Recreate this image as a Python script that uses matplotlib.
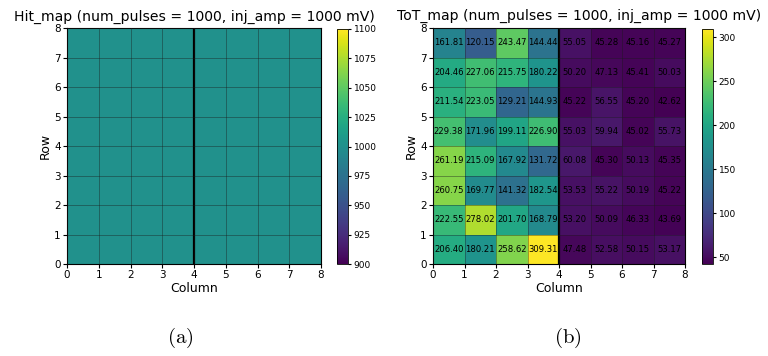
import numpy as np
import matplotlib
matplotlib.use("Agg")
import matplotlib.pyplot as plt

plt.rcParams['font.family'] = ['DejaVu Sans']
plt.rcParams['mathtext.fontset'] = 'cm'

n_cols = 8
n_rows = 8
num_pulses = 1000
inj_amp = 1000

# Hit counts per pixel (rows listed from row 7 at top down to row 0)
hit_rows_top_down = [
    [1000, 1000, 1000, 1000, 1000, 1000, 1000, 1000],
    [1000, 1000, 1000, 1000, 1000, 1000, 1000, 1000],
    [1000, 1000, 1000, 1000, 1000, 1000, 1000, 1000],
    [1000, 1000, 1000, 1000, 1000, 1000, 1000, 1000],
    [1000, 1000, 1000, 1000, 1000, 1000, 1000, 1000],
    [1000, 1000, 1000, 1000, 1000, 1000, 1000, 1000],
    [1000, 1000, 1000, 1000, 1000, 1000, 1000, 1000],
    [1000, 1000, 1000, 1000, 1000, 1000, 1000, 1000],
]

# Mean ToT per pixel (rows listed from row 7 at top down to row 0)
tot_rows_top_down = [
    [161.81, 120.15, 243.47, 144.44, 55.05, 45.28, 45.16, 45.27],
    [204.46, 227.06, 215.75, 180.22, 50.20, 47.13, 45.41, 50.03],
    [211.54, 223.05, 129.21, 144.93, 45.22, 56.55, 45.20, 42.62],
    [229.38, 171.96, 199.11, 226.90, 55.03, 59.94, 45.02, 55.73],
    [261.19, 215.09, 167.92, 131.72, 60.08, 45.30, 50.13, 45.35],
    [260.75, 169.77, 141.32, 182.54, 53.53, 55.22, 50.19, 45.22],
    [222.55, 278.02, 201.70, 168.79, 53.20, 50.09, 46.33, 43.69],
    [206.40, 180.21, 258.62, 309.31, 47.48, 52.58, 50.15, 53.17],
]

hit_ticks = [900, 925, 950, 975, 1000, 1025, 1050, 1075, 1100]
tot_ticks = [50, 100, 150, 200, 250, 300]
split_col = 4

hit = np.array(hit_rows_top_down, dtype=float)[::-1]
tot = np.array(tot_rows_top_down, dtype=float)[::-1]

fig = plt.figure(figsize=(7.68, 3.56), dpi=100)

W, H = 768.0, 356.0
def rect(x0, x1, y0, y1):
    return [x0 / W, 1 - y1 / H, (x1 - x0) / W, (y1 - y0) / H]

ax1 = fig.add_axes(rect(67, 321, 28, 264))
cax1 = fig.add_axes(rect(337, 348, 29, 264))
ax2 = fig.add_axes(rect(433, 685, 28, 264))
cax2 = fig.add_axes(rect(702, 713, 29, 264))

xe = np.arange(n_cols + 1)
ye = np.arange(n_rows + 1)


def style_axes(ax):
    ax.set_xlim(0, n_cols)
    ax.set_ylim(0, n_rows)
    ax.set_xticks(range(n_cols + 1))
    ax.set_yticks(range(n_rows + 1))
    ax.tick_params(labelsize=7.5, length=3, pad=1.5)
    ax.set_xlabel("Column", fontsize=9, labelpad=1)
    ax.set_ylabel("Row", fontsize=9, labelpad=2)
    ax.grid(True, color='0.1', linewidth=0.6, alpha=0.45)
    ax.set_axisbelow(False)
    ax.axvline(split_col, color='black', linewidth=1.6)


m1 = ax1.pcolormesh(xe, ye, hit, cmap='viridis', vmin=900, vmax=1100)
style_axes(ax1)
ax1.set_title(f"Hit_map (num_pulses = {num_pulses}, inj_amp = {inj_amp} mV)",
              fontsize=10.1, pad=5)
cb1 = fig.colorbar(m1, cax=cax1, ticks=hit_ticks)
cb1.ax.tick_params(labelsize=6.5, length=2.5, pad=1.5)
cb1.outline.set_linewidth(0.6)

m2 = ax2.pcolormesh(xe, ye, tot, cmap='viridis',
                    vmin=tot.min(), vmax=tot.max())
style_axes(ax2)
ax2.text(0.58, 1.02,
         f"ToT_map (num_pulses = {num_pulses}, inj_amp = {inj_amp} mV)",
         transform=ax2.transAxes, ha='center', va='bottom', fontsize=10.1)
for r in range(n_rows):
    for c in range(n_cols):
        ax2.text(c + 0.5, r + 0.5, f"{tot[r, c]:.2f}", ha='center',
                 va='center', fontsize=6.1, color='black')
cb2 = fig.colorbar(m2, cax=cax2, ticks=tot_ticks)
cb2.ax.tick_params(labelsize=6.5, length=2.5, pad=1.5)
cb2.outline.set_linewidth(0.6)

fig.text(180 / W, 1 - 338 / H, r"$\mathrm{(a)}$", ha='center', va='center',
         fontsize=15)
fig.text(568 / W, 1 - 338 / H, r"$\mathrm{(b)}$", ha='center', va='center',
         fontsize=15)

fig.savefig("out.png", dpi=100)
